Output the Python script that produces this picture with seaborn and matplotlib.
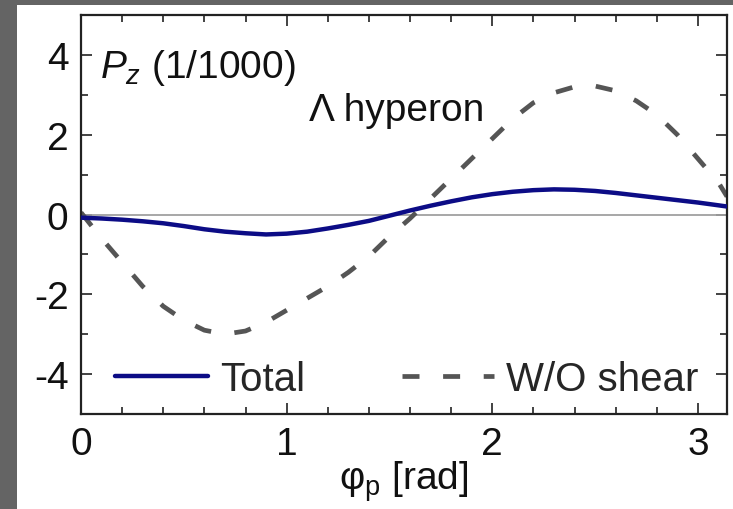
import numpy as np
import pandas as pd
import matplotlib
matplotlib.use("Agg")
import matplotlib.pyplot as plt
from matplotlib.patches import Rectangle
import seaborn as sns

# ---- data ----
phi = [0.0, 0.1, 0.2, 0.3, 0.4, 0.5, 0.6, 0.7, 0.8, 0.9, 1.0, 1.1, 1.2, 1.3, 1.4,
       1.5, 1.6, 1.7, 1.8, 1.9, 2.0, 2.1, 2.2, 2.3, 2.4, 2.5, 2.6, 2.7, 2.8, 2.9,
       3.0, 3.1, np.pi]
total = [-0.08, -0.10, -0.13, -0.17, -0.22, -0.29, -0.37, -0.43, -0.47, -0.50,
         -0.48, -0.43, -0.35, -0.26, -0.16, -0.03, 0.10, 0.22, 0.33, 0.43, 0.51,
         0.57, 0.61, 0.63, 0.62, 0.59, 0.54, 0.48, 0.42, 0.36, 0.30, 0.23, 0.20]
wo_shear = [0.05, -0.6, -1.2, -1.8, -2.3, -2.65, -2.9, -3.0, -2.92, -2.7, -2.4,
            -2.1, -1.8, -1.45, -1.05, -0.55, -0.1, 0.4, 0.9, 1.4, 1.9, 2.4, 2.8,
            3.05, 3.2, 3.22, 3.1, 2.85, 2.5, 2.0, 1.4, 0.8, 0.45]
series_labels = ["Total", "W/O shear"]
x_ticks = [0, 1, 2, 3]
y_ticks = [-4, -2, 0, 2, 4]

df = pd.DataFrame({"phi": phi, "total": total, "wo": wo_shear})

sns.set_theme(style="ticks")
plt.rcParams["font.family"] = ["Liberation Sans", "DejaVu Sans"]
plt.rcParams["mathtext.fontset"] = "custom"
plt.rcParams["mathtext.rm"] = "Liberation Sans"
plt.rcParams["mathtext.it"] = "Liberation Sans:italic"
plt.rcParams["axes.unicode_minus"] = False

W, H = 733, 510
fig = plt.figure(figsize=(W / 100, H / 100), dpi=100, facecolor="#646464")
fig.patches.append(Rectangle((17 / W, 0), 1 - 17 / W, 1 - 6 / H,
                             transform=fig.transFigure, facecolor="white",
                             edgecolor="none", zorder=-10))
ax = fig.add_axes([81 / W, 1 - 415 / H, (727 - 81) / W, (415 - 16) / H])
ax.set_zorder(5)
ax.set_facecolor("white")

ax.axhline(0, color="#a0a0a0", lw=1.3, zorder=1)
sns.lineplot(data=df, x="phi", y="total", ax=ax, color="#0c0c86", lw=3.2,
             label=series_labels[0], zorder=3)
sns.lineplot(data=df, x="phi", y="wo", ax=ax, color="#555555", lw=3.4,
             linestyle=(0, (3.6, 5.0)), label=series_labels[1], zorder=2)

ax.set_xlim(0, np.pi)
ax.set_ylim(-5, 5)
ax.set_xticks(x_ticks)
ax.set_yticks(y_ticks)
ax.set_xticks(np.arange(0, 3.15, 0.2), minor=True)
ax.set_yticks(np.arange(-5, 5.1, 1), minor=True)
ax.tick_params(which="both", direction="in", top=True, right=True, width=1.2,
               color="#222222")
ax.tick_params(which="major", length=8, labelsize=28, pad=9, labelcolor="#111111")
ax.tick_params(which="minor", length=5)
for s in ax.spines.values():
    s.set_linewidth(1.6)
    s.set_color("#222222")

ax.set_ylabel("")
ax.set_xlabel(r"φ$_\mathrm{p}$ [rad]", fontsize=28, labelpad=-3, color="#111111")

ax.text(0.09, 3.45, r"$P_z$ (1/1000)", fontsize=28, color="#111111")
ax.text(1.11, 2.38, "Λ hyperon", fontsize=28, color="#111111")

ax.legend(loc="center left", bbox_to_anchor=((115 - 81) / 646, (415 - 380) / 399),
          ncol=2, frameon=False, fontsize=29, handlelength=2.3,
          handletextpad=0.3, columnspacing=2.4, borderpad=0, borderaxespad=0)

fig.savefig("out.png", dpi=100, facecolor=fig.get_facecolor())
